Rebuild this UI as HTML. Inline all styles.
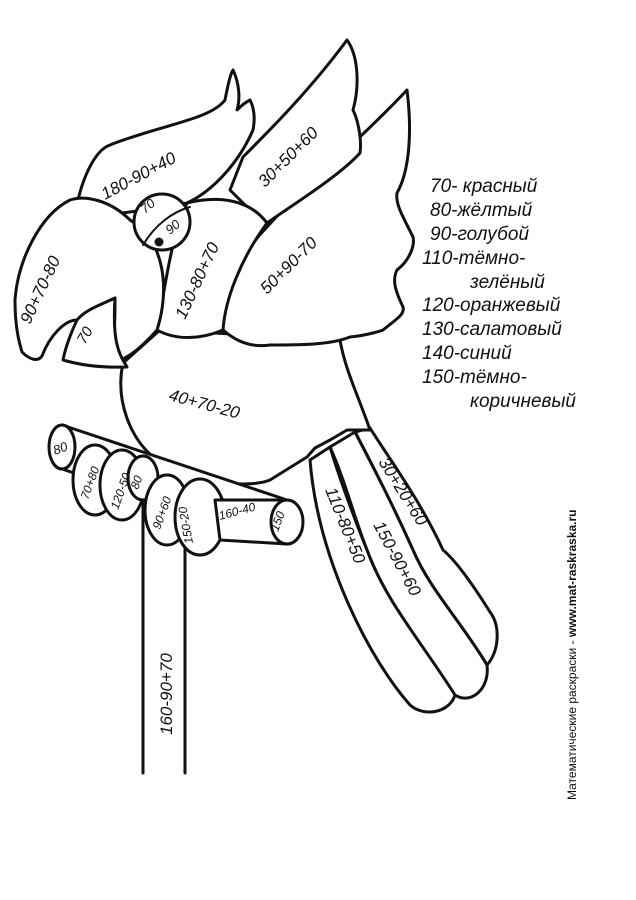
<!DOCTYPE html>
<html><head><meta charset="utf-8"><style>
html,body{margin:0;padding:0;background:#fff}
svg{display:block}
text{font-family:"Liberation Sans",sans-serif;fill:#111}
</style></head><body>
<svg width="636" height="900" viewBox="0 0 636 900" xmlns="http://www.w3.org/2000/svg">
<g fill="#fff" stroke="#111" stroke-width="3" stroke-linejoin="round" stroke-linecap="round">
<!-- tail feathers -->
<path d="M355,432 C375,470 395,510 413,550 C430,590 460,620 487,665 C500,650 500,625 490,612 C470,580 455,560 443,550 C420,500 390,460 370,428 Z"/>
<path d="M330,447 C345,480 355,520 367,550 C390,610 430,660 455,695 C470,705 490,690 487,665 C460,620 430,590 413,550 C395,510 380,480 355,432 Z"/>
<path d="M310,460 C318,560 370,660 410,705 C425,718 450,712 455,695 C420,640 385,600 367,550 C355,520 340,480 330,447 Z"/>
<!-- vertical post -->
<path d="M143,500 L143,773 M185,505 L185,773" fill="none"/>
<!-- body -->
<path d="M123,363 C115,400 130,440 157,460 C200,485 250,488 270,480 L307,457 L315,448 L330,440 L347,430 L370,430 C360,400 345,370 340,340 L160,330 Z"/>
<!-- lower wing -->
<path d="M407,90 C360,140 300,190 267,227 C235,260 220,300 223,330 C240,345 257,347 270,345 C300,345 330,345 350,337 C370,335 383,330 383,330 C395,320 405,315 403,307 C395,290 392,280 397,270 C410,260 415,245 413,237 C405,220 395,205 397,193 C410,170 412,130 407,90 Z"/>
<!-- upper wing -->
<path d="M347,40 C310,90 270,130 243,157 L230,190 C250,210 260,220 267,223 C300,200 340,175 360,153 C362,140 358,120 353,110 C360,85 358,55 347,40 Z"/>
<!-- crest -->
<path d="M75,217 C80,180 95,150 110,145 C160,125 210,120 225,100 C228,85 230,75 233,70 C240,85 240,100 237,110 C242,105 246,102 250,100 C255,110 255,120 253,130 C240,160 215,190 187,203 C150,210 110,215 75,217 Z"/>
<!-- neck -->
<path d="M187,203 C220,195 250,200 267,223 C240,260 225,300 223,330 C200,340 175,340 157,330 C165,290 170,240 187,203 Z"/>
<!-- head + upper beak -->
<path d="M157,330 C170,290 165,240 130,220 C110,200 85,195 70,200 C40,215 18,260 15,300 C15,330 20,345 22,352 C30,360 38,362 42,356 C50,335 65,320 77,320 C90,310 105,305 115,298 C115,330 115,345 100,360 C115,368 135,355 157,330 Z"/>
<!-- lower mandible -->
<path d="M115,298 C100,305 85,310 77,320 C70,335 65,350 63,360 C80,365 100,368 127,367 C120,355 112,345 115,298 Z"/>
<!-- eye -->
<circle cx="162" cy="222" r="28"/>
<path d="M143,245 C155,225 172,212 190,207" fill="none" stroke-width="2"/>
<circle cx="159" cy="242" r="3" fill="#111"/>
<!-- perch -->
<path d="M62,425 L287,500 L287,544 L62,469 Z"/>
<ellipse cx="62" cy="447" rx="13" ry="22"/>
<ellipse cx="95" cy="480" rx="22" ry="35"/>
<ellipse cx="122" cy="485" rx="22" ry="35"/>
<ellipse cx="143" cy="478" rx="15" ry="22"/>
<ellipse cx="167" cy="510" rx="22" ry="35"/>
<ellipse cx="200" cy="517" rx="25" ry="38"/>
<path d="M215,500 L287,500 L287,544 L220,540 Z"/>
<ellipse cx="287" cy="522" rx="16" ry="22"/>
</g>
<g font-size="17" font-style="italic">
<text transform="translate(105,200) rotate(-28)">180-90+40</text>
<text transform="translate(265,188) rotate(-45)">30+50+60</text>
<text transform="translate(267,295) rotate(-45)">50+90-70</text>
<text transform="translate(185,320) rotate(-65)">130-80+70</text>
<text transform="translate(30,325) rotate(-65)">90+70-80</text>
<text transform="translate(85,345) rotate(-60)" font-size="15">70</text>
<text transform="translate(145,214) rotate(-40)" font-size="13">70</text>
<text transform="translate(170,235) rotate(-40)" font-size="13">90</text>
<text transform="translate(168,400) rotate(15)">40+70-20</text>
<text transform="translate(55,455) rotate(-20)" font-size="13">80</text>
<text transform="translate(88,500) rotate(-70)" font-size="12">70+80</text>
<text transform="translate(118,510) rotate(-70)" font-size="12">120-50</text>
<text transform="translate(138,490) rotate(-70)" font-size="12">80</text>
<text transform="translate(160,530) rotate(-70)" font-size="12">90+60</text>
<text transform="translate(193,543) rotate(-100)" font-size="12">150-20</text>
<text transform="translate(220,520) rotate(-15)" font-size="12">160-40</text>
<text transform="translate(278,532) rotate(-70)" font-size="12">150</text>
<text transform="translate(172,735) rotate(-90)">160-90+70</text>
<text transform="translate(325,490) rotate(68)">110-80+50</text>
<text transform="translate(373,525) rotate(62)">150-90+60</text>
<text transform="translate(378,462) rotate(58)">30+20+60</text>
</g>
<g font-size="19" font-style="italic">
<text x="430" y="192">70- красный</text>
<text x="430" y="216">80-жёлтый</text>
<text x="430" y="240">90-голубой</text>
<text x="422" y="264">110-тёмно-</text>
<text x="470" y="288">зелёный</text>
<text x="422" y="311">120-оранжевый</text>
<text x="422" y="335">130-салатовый</text>
<text x="422" y="359">140-синий</text>
<text x="422" y="383">150-тёмно-</text>
<text x="470" y="407">коричневый</text>
</g>
<text transform="translate(576,800) rotate(-90)" font-size="12">Математические раскраски - <tspan font-weight="bold">www.mat-raskraska.ru</tspan></text>
</svg>
</body></html>
